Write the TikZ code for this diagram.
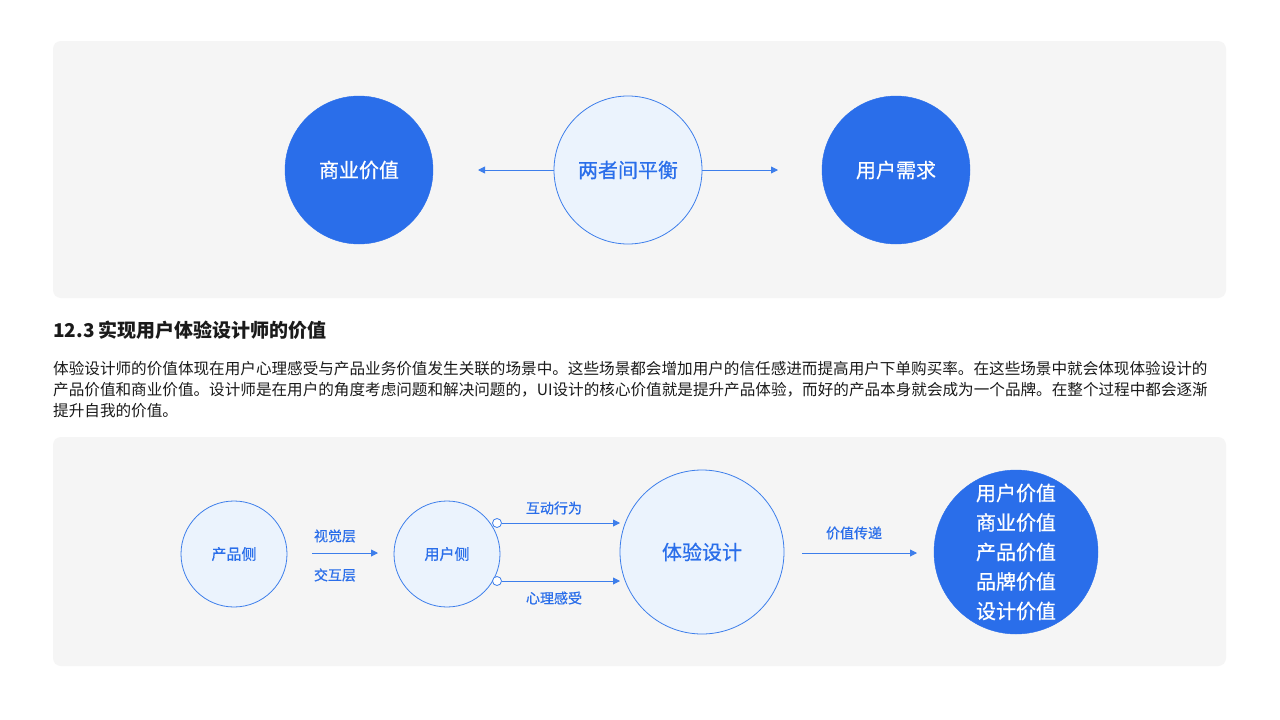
\documentclass[tikz,border=0pt]{standalone}
\usepackage{fontspec}
\setmainfont{Noto Sans CJK SC}
\newfontfamily\med[FakeBold=0.6]{Noto Sans CJK SC}
\usetikzlibrary{arrows.meta}
\definecolor{bdark}{HTML}{2A6EEA}
\definecolor{blight}{HTML}{EBF3FD}
\definecolor{bline}{HTML}{3D7EEB}
\definecolor{panel}{HTML}{F5F5F5}
\definecolor{txt}{HTML}{1A1A1A}
\tikzset{
 big/.style={circle,fill=bdark,draw=bdark,text=white,inner sep=0pt},
 light/.style={circle,fill=blight,draw=bline,line width=0.8pt,text=bdark,inner sep=0pt},
 arr/.style={draw=bline,line width=0.9pt,-{Triangle[length=7pt,width=7pt]}},
 lab/.style={text=bdark,font=\med\fontsize{14}{16}\selectfont},
 para/.style={anchor=west,text=txt,font=\fontsize{15.6}{16}\selectfont,inner sep=0pt},
 dot/.style={circle,draw=bline,fill=white,line width=0.8pt,minimum size=9pt,inner sep=0pt}
}
\begin{document}
\begin{tikzpicture}[x=1pt,y=-1pt]
\useasboundingbox (0,0) rectangle (1280,720);
\fill[white] (0,0) rectangle (1280,720);
\fill[panel,rounded corners=8pt] (53,41) rectangle (1226,298);
\fill[panel,rounded corners=8pt] (53,437) rectangle (1226,666);
% top
\node[big,minimum size=148pt,font=\med\fontsize{20}{24}\selectfont] (a) at (359,170) {商业价值};
\node[light,minimum size=148pt,font=\med\fontsize{20}{24}\selectfont] (b) at (628,170) {两者间平衡};
\node[big,minimum size=148pt,font=\med\fontsize{20}{24}\selectfont] (c) at (896,170) {用户需求};
\coordinate (al) at (478,170); \coordinate (ar) at (778,170);
\draw[arr] (b.west) -- (al);
\draw[arr] (b.east) -- (ar);
% text
\node[anchor=west,inner sep=0pt,text=txt,font=\fontsize{19}{22}\selectfont\bfseries] (h) at (53,330) {12.3 实现用户体验设计师的价值};
\node[para] (p1) at (53,369) {体验设计师的价值体现在用户心理感受与产品业务价值发生关联的场景中。这些场景都会增加用户的信任感进而提高用户下单购买率。在这些场景中就会体现体验设计的};
\node[para] (p2) at (53,390) {产品价值和商业价值。设计师是在用户的角度考虑问题和解决问题的，UI设计的核心价值就是提升产品体验，而好的产品本身就会成为一个品牌。在整个过程中都会逐渐};
\node[para] (p3) at (53,411) {提升自我的价值。};
% bottom
\node[light,minimum size=106pt,font=\med\fontsize{15}{18}\selectfont] (p) at (234,554) {产品侧};
\node[light,minimum size=106pt,font=\med\fontsize{15}{18}\selectfont] (u) at (447,554) {用户侧};
\node[light,minimum size=164pt,font=\med\fontsize{20}{24}\selectfont] (e) at (702,552) {体验设计};
\node[big,minimum size=164pt,font=\med\fontsize{20}{29.5}\selectfont,align=center] (r) at (1016,552) {用户价值\\商业价值\\产品价值\\品牌价值\\设计价值};
\coordinate (p0) at (312,553); \coordinate (p1e) at (378,553);
\draw[arr] (p0) -- (p1e);
\node[lab] at (335,536) {视觉层};
\node[lab] at (335,575) {交互层};
\node[dot] (d1) at (497,523) {};
\node[dot] (d2) at (497,581) {};
\coordinate (t1) at (620,523); \coordinate (t2) at (620,581);
\draw[arr] (d1.east) -- (t1);
\draw[arr] (d2.east) -- (t2);
\node[lab] at (554,508) {互动行为};
\node[lab] at (554,598) {心理感受};
\coordinate (v0) at (802,553); \coordinate (v1) at (917,553);
\draw[arr] (v0) -- (v1);
\node[lab] at (854,533) {价值传递};
\end{tikzpicture}
\end{document}
